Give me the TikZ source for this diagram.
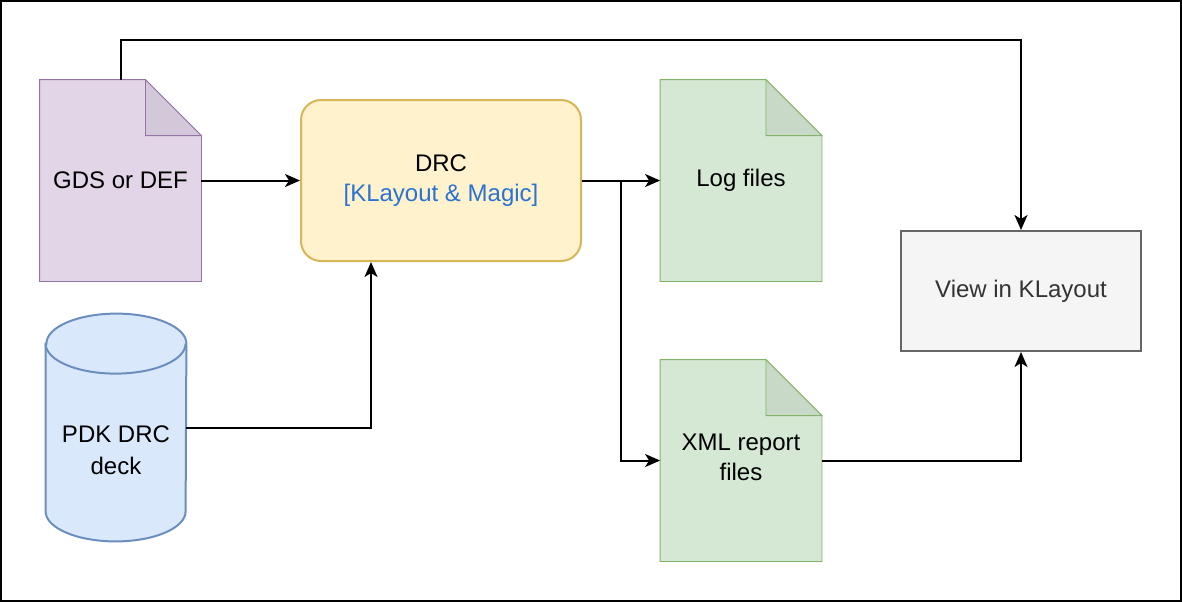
\documentclass[tikz,border=0pt]{standalone}
\usepackage{fontspec}
\setmainfont{Liberation Sans}
\usetikzlibrary{arrows.meta,backgrounds}

\definecolor{purplefill}{HTML}{E1D5E7}
\definecolor{purpleline}{HTML}{9673A6}
\definecolor{yellowfill}{HTML}{FFF2CC}
\definecolor{yellowline}{HTML}{D6B656}
\definecolor{greenfill}{HTML}{D5E8D4}
\definecolor{greenline}{HTML}{82B366}
\definecolor{bluefill}{HTML}{DAE8FC}
\definecolor{blueline}{HTML}{6C8EBF}
\definecolor{grayfill}{HTML}{F5F5F5}
\definecolor{grayline}{HTML}{666666}
\definecolor{graytext}{HTML}{333333}
\definecolor{tooltext}{HTML}{2A72D5}

\tikzset{
  txt/.style={font=\fontsize{12}{15}\selectfont, align=center, inner sep=0pt},
  docbox/.style={txt, minimum width=80.5pt, minimum height=100.5pt},
  flow/.style={draw, line width=1pt, -{Stealth[length=7.5pt,width=6.5pt,inset=2pt]}},
}

% page with a folded corner, drawn behind a node
\newcommand{\docpage}[3]{%
  \begin{scope}[on background layer, line width=1pt]
  \filldraw[fill=#2, draw=#3]
       (#1.north west)
    -- ([xshift=-28pt]#1.north east)
    -- ([yshift=-28pt]#1.north east)
    -- (#1.south east)
    -- (#1.south west)
    -- cycle;
  \filldraw[fill=#2!94!black, draw=#3]
       ([xshift=-28pt]#1.north east)
    -- ([xshift=-28pt,yshift=-28pt]#1.north east)
    -- ([yshift=-28pt]#1.north east)
    -- cycle;
  \end{scope}}

\begin{document}
\begin{tikzpicture}[x=0.5pt,y=-0.5pt]
\useasboundingbox (0,0) rectangle (1182,602);
\draw[line width=1pt] (1,1) rectangle (1181,601); % frame

\node[docbox] (gds) at (120.5,180.5) {GDS or DEF};
\docpage{gds}{purplefill}{purpleline}

\node[txt, draw=yellowline, fill=yellowfill, line width=1pt, rounded corners=10pt,
      minimum width=140pt, minimum height=80.5pt] (drc) at (441,180.5)
  {DRC\\\textcolor{tooltext}{[KLayout \& Magic]}};

\node[docbox] (log) at (741,180.5) {Log files};
\docpage{log}{greenfill}{greenline}

\node[docbox] (xml) at (741,460.5) {\raisebox{3pt}{\shortstack{XML report\\[1pt]files}}};
\docpage{xml}{greenfill}{greenline}

\node[txt, draw=grayline, fill=grayfill, text=graytext, line width=1pt,
      minimum width=120pt, minimum height=60pt] (view) at (1021,291) {View in KLayout};

% cylinder
\node[minimum width=70pt, minimum height=113.5pt, inner sep=0pt] (pdk) at (116,427.5) {};
\filldraw[fill=bluefill, draw=blueline, line width=1pt]
     ([yshift=-15pt]pdk.north west)
  -- ([yshift=15pt]pdk.south west)
     arc[start angle=180, end angle=360, x radius=35pt, y radius=15pt]
  -- ([yshift=-15pt]pdk.north east)
     arc[start angle=0, end angle=180, x radius=35pt, y radius=15pt]
  -- cycle;
\draw[blueline, line width=1pt]
     ([yshift=-15pt]pdk.north west)
     arc[start angle=180, end angle=360, x radius=35pt, y radius=15pt];
\node[txt] (pdktext) at (116,450) {PDK DRC\\[1pt]deck};

\coordinate (split) at (621,180.5);

\draw[flow] (gds.east) -- (drc.west);
\draw[flow] (gds.north) -- ++(0,-39.5) -| (view.north);
\draw[flow] (pdk.east) -| ([xshift=-35pt]drc.south);
\draw[flow] (drc.east) -- (log.west);
\draw[flow] (split) |- (xml.west);
\draw[flow] (xml.east) -| (view.south);
\end{tikzpicture}
\end{document}
